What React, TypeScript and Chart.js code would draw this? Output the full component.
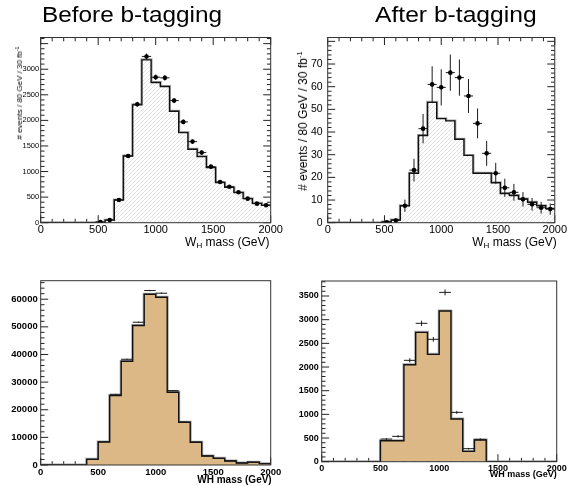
import React, { useEffect, useRef } from 'react';
import { Chart, registerables } from 'chart.js';

Chart.register(...registerables);

const W = 568;
const H = 486;

// ---------- Top panels: 80 GeV bins ----------
const topLowEdges = [0, 80, 160, 240, 320, 400, 480, 560, 640, 720, 800, 880, 960, 1040, 1120, 1200, 1280, 1360, 1440, 1520, 1600, 1680, 1760, 1840, 1920];
const topCenters = [520, 600, 680, 760, 840, 920, 1000, 1080, 1160, 1240, 1320, 1400, 1480, 1560, 1640, 1720, 1800, 1880, 1960];

const beforeHist = [0, 0, 0, 0, 0, 0, 5, 50, 443, 1305, 2303, 3183, 2740, 2661, 2179, 1761, 1435, 1292, 1076, 783, 691, 587, 470, 378, 339];
const beforePts = [13, 52, 443, 1305, 2316, 3250, 2844, 2831, 2387, 1970, 1585, 1370, 1096, 796, 704, 594, 470, 372, 340];
const beforeErr = [4, 7, 21, 36, 48, 57, 53, 53, 49, 44, 40, 37, 33, 28, 27, 24, 22, 19, 18];

const afterHist = [0, 0, 0, 0, 0, 0, 0.3, 1.2, 7.5, 21.8, 38.5, 53.1, 45.9, 44.9, 36.8, 29.7, 21.8, 21.8, 17.6, 12.9, 12.0, 10.5, 9.0, 7.5, 6.2];
const afterPts = [0.2, 1, 7.5, 23.2, 41.5, 61, 59.7, 66.2, 64, 55.9, 43.8, 30.6, 21.8, 15.4, 13.4, 10.3, 8.1, 6.6, 6];
const afterErr = [0.5, 1, 2.7, 5, 6.5, 8, 8, 8, 8, 7.5, 6.6, 5.5, 4.6, 4, 3.7, 3.2, 2.8, 2.6, 2.5];

// ---------- Bottom panels: 100 GeV bins ----------
const botLowEdges = [0, 100, 200, 300, 400, 500, 600, 700, 800, 900, 1000, 1100, 1200, 1300, 1400, 1500, 1600, 1700, 1800, 1900];

const fullHist = [0, 0, 0, 0, 2050, 8330, 25110, 37550, 50460, 61810, 60730, 26320, 15450, 8210, 3260, 2410, 1450, 720, 970, 480];
const fullCenters = [450, 550, 650, 750, 850, 950, 1050, 1150, 1250, 1350, 1450, 1550, 1650, 1750, 1850, 1950];
const fullMarks = [2100, 8400, 25590, 38270, 51670, 63140, 62170, 26920, 15500, 8300, 3300, 2450, 1480, 740, 990, 500];
const fullErr = [45, 90, 160, 200, 230, 250, 250, 165, 125, 90, 60, 50, 40, 27, 31, 22];

const btagHist = [0, 0, 0, 0, 0, 444, 444, 2049, 2732, 2268, 3183, 901, 218, 458, 0, 0, 0, 0, 0, 0];
const btagCenters = [550, 650, 750, 850, 950, 1050, 1150, 1250, 1350];
const btagMarks = [479, 535, 2141, 2923, 2585, 3577, 1042, 275, 472];
const btagErr = [20, 25, 45, 55, 50, 62, 32, 17, 22];

// ---------- Tick labels ----------
const xTicks = [0, 500, 1000, 1500, 2000];
const beforeYTicks = [0, 500, 1000, 1500, 2000, 2500, 3000];
const afterYTicks = [0, 10, 20, 30, 40, 50, 60, 70];
const fullYTicks = [0, 10000, 20000, 30000, 40000, 50000, 60000];
const btagYTicks = [0, 500, 1000, 1500, 2000, 2500, 3000, 3500];

const FONT = 'Liberation Sans';

type Area = { l: number; r: number; t: number; b: number };

interface PanelSpec {
  area: Area;
  yMax: number;
  yTicks: number[];
  yMinor: number;
  edges: number[];
  hist: number[];
  xEnd: number;
  fill: 'hatch' | 'tan';
  ptsX: number[];
  ptsY: number[];
  errY: number[];
  halfW: number;
  showDots: boolean;
  mirror: boolean;
  xFont: any;
  yFont: any;
  xPad: number;
  yPad: number;
}

function makeHatch(): CanvasPattern | string {
  const c = document.createElement('canvas');
  c.width = 4;
  c.height = 4;
  const g = c.getContext('2d');
  if (!g) return '#f4f4f4';
  g.fillStyle = '#ffffff';
  g.fillRect(0, 0, 4, 4);
  g.strokeStyle = '#d6d6d6';
  g.lineWidth = 0.7;
  g.beginPath();
  g.moveTo(0, 4);
  g.lineTo(4, 0);
  g.moveTo(-1, 1);
  g.lineTo(1, -1);
  g.moveTo(3, 5);
  g.lineTo(5, 3);
  g.stroke();
  return g.createPattern(c, 'repeat') || '#f4f4f4';
}

function buildConfig(p: PanelSpec): any {
  const histData = p.edges.map((e, i) => ({ x: e, y: p.hist[i] }));
  histData.push({ x: p.xEnd, y: p.hist[p.hist.length - 1] });
  const ptsData = p.ptsX.map((x, i) => ({ x, y: p.ptsY[i] }));

  const axesPlugin = {
    id: 'rootAxes',
    beforeDatasetsDraw(chart: any) {
      const { ctx, chartArea: a, scales } = chart;
      const xs = scales.x;
      const ys = scales.y;
      ctx.save();
      ctx.strokeStyle = '#222';
      ctx.lineWidth = 1;
      ctx.beginPath();
      const majL = 7.5;
      const minL = 3.8;
      const nx = Math.round((xs.max - xs.min) / 100);
      for (let i = 0; i <= nx; i++) {
        const v = xs.min + i * 100;
        const px = xs.getPixelForValue(v);
        const len = v % 500 === 0 ? majL : minL;
        ctx.moveTo(px, a.bottom);
        ctx.lineTo(px, a.bottom - len);
        if (p.mirror) {
          ctx.moveTo(px, a.top);
          ctx.lineTo(px, a.top + len);
        }
      }
      const majStep = p.yTicks[1] - p.yTicks[0];
      const ny = Math.floor(ys.max / p.yMinor + 1e-9);
      for (let i = 0; i <= ny; i++) {
        const v = i * p.yMinor;
        const py = ys.getPixelForValue(v);
        const isMaj = Math.abs(v / majStep - Math.round(v / majStep)) < 1e-6;
        const len = isMaj ? majL : minL;
        ctx.moveTo(a.left, py);
        ctx.lineTo(a.left + len, py);
        if (p.mirror) {
          ctx.moveTo(a.right, py);
          ctx.lineTo(a.right - len, py);
        }
      }
      ctx.stroke();
      ctx.restore();
    },
    beforeDatasetDraw(chart: any, args: any) {
      if (args.index !== 0) return;
      const { ctx, scales } = chart;
      const xs = scales.x;
      const ys = scales.y;
      ctx.save();
      ctx.strokeStyle = '#1a1a1a';
      ctx.lineWidth = 1;
      ctx.beginPath();
      p.ptsX.forEach((x, i) => {
        const y = p.ptsY[i];
        const e = p.errY[i];
        const py = ys.getPixelForValue(y);
        ctx.moveTo(xs.getPixelForValue(x - p.halfW), py);
        ctx.lineTo(xs.getPixelForValue(x + p.halfW), py);
        const px = xs.getPixelForValue(x);
        ctx.moveTo(px, ys.getPixelForValue(Math.max(0, y - e)));
        ctx.lineTo(px, ys.getPixelForValue(y + e));
      });
      ctx.stroke();
      ctx.restore();
    },
    afterDatasetsDraw(chart: any) {
      const { ctx, chartArea: a } = chart;
      ctx.save();
      ctx.strokeStyle = '#333';
      ctx.lineWidth = 1;
      ctx.strokeRect(a.left, a.top, a.right - a.left, a.bottom - a.top);
      ctx.restore();
    },
  };

  const fillColor = p.fill === 'hatch' ? makeHatch() : '#dcb886';

  return {
    type: 'scatter',
    data: {
      datasets: [
        {
          data: ptsData,
          pointRadius: p.showDots ? 2.3 : 0,
          pointHoverRadius: 0,
          pointBackgroundColor: '#000',
          pointBorderWidth: 0,
          showLine: false,
        },
        {
          data: histData,
          showLine: true,
          stepped: true,
          fill: 'origin',
          backgroundColor: fillColor,
          borderColor: '#111',
          borderWidth: 1.4,
          pointRadius: 0,
        },
        {
          data: histData,
          showLine: true,
          stepped: true,
          fill: false,
          borderColor: 'rgba(130,130,130,0.7)',
          borderWidth: 3,
          pointRadius: 0,
        },
      ],
    },
    options: {
      animation: false,
      responsive: false,
      devicePixelRatio: 1,
      events: [],
      layout: {
        padding: { left: 0, right: W - p.area.r, top: p.area.t, bottom: 0 },
      },
      plugins: { legend: { display: false }, tooltip: { enabled: false }, title: { display: false } },
      scales: {
        x: {
          type: 'linear',
          min: 0,
          max: 2000,
          grid: { display: false, drawTicks: false },
          border: { display: false },
          ticks: {
            autoSkip: false,
            maxRotation: 0,
            padding: p.xPad,
            color: '#000',
            font: p.xFont,
            callback: (v: number) => String(v),
          },
          afterBuildTicks: (s: any) => {
            s.ticks = xTicks.map((v) => ({ value: v }));
          },
          afterFit: (s: any) => {
            s.height = H - p.area.b;
          },
        },
        y: {
          type: 'linear',
          min: 0,
          max: p.yMax,
          grid: { display: false, drawTicks: false },
          border: { display: false },
          ticks: {
            autoSkip: false,
            padding: p.yPad,
            color: '#000',
            font: p.yFont,
            callback: (v: number) => String(v),
          },
          afterBuildTicks: (s: any) => {
            s.ticks = p.yTicks.map((v) => ({ value: v }));
          },
          afterFit: (s: any) => {
            s.width = p.area.l;
          },
        },
      },
    },
    plugins: [axesPlugin],
  };
}

const panels: PanelSpec[] = [
  {
    area: { l: 40.7, r: 270.7, t: 37.5, b: 222.7 },
    yMax: 3620,
    yTicks: beforeYTicks,
    yMinor: 100,
    edges: topLowEdges,
    hist: beforeHist,
    xEnd: 2000,
    fill: 'hatch',
    ptsX: topCenters,
    ptsY: beforePts,
    errY: beforeErr,
    halfW: 40,
    showDots: true,
    mirror: true,
    xFont: { family: FONT, size: 11 },
    yFont: { family: FONT, size: 7.5 },
    xPad: 1,
    yPad: 1.5,
  },
  {
    area: { l: 327.7, r: 556.7, t: 37.5, b: 222.7 },
    yMax: 81.7,
    yTicks: afterYTicks,
    yMinor: 2,
    edges: topLowEdges,
    hist: afterHist,
    xEnd: 2000,
    fill: 'hatch',
    ptsX: topCenters,
    ptsY: afterPts,
    errY: afterErr,
    halfW: 40,
    showDots: true,
    mirror: true,
    xFont: { family: FONT, size: 11 },
    yFont: { family: FONT, size: 10.5 },
    xPad: 1,
    yPad: 5,
  },
  {
    area: { l: 40.7, r: 270.7, t: 280.7, b: 465 },
    yMax: 66700,
    yTicks: fullYTicks,
    yMinor: 2000,
    edges: botLowEdges,
    hist: fullHist,
    xEnd: 2000,
    fill: 'tan',
    ptsX: fullCenters,
    ptsY: fullMarks,
    errY: fullErr,
    halfW: 50,
    showDots: false,
    mirror: false,
    xFont: { family: FONT, size: 9.5, weight: 'bold' },
    yFont: { family: FONT, size: 9.5, weight: 'bold' },
    xPad: 1.5,
    yPad: 3,
  },
  {
    area: { l: 321.7, r: 556.7, t: 281, b: 461.7 },
    yMax: 3817,
    yTicks: btagYTicks,
    yMinor: 100,
    edges: botLowEdges,
    hist: btagHist,
    xEnd: 2000,
    fill: 'tan',
    ptsX: btagCenters,
    ptsY: btagMarks,
    errY: btagErr,
    halfW: 50,
    showDots: false,
    mirror: false,
    xFont: { family: FONT, size: 9, weight: 'bold' },
    yFont: { family: FONT, size: 9, weight: 'bold' },
    xPad: 1,
    yPad: 3,
  },
];

function PanelCanvas({ spec }: { spec: PanelSpec }) {
  const ref = useRef<HTMLCanvasElement | null>(null);
  useEffect(() => {
    if (!ref.current) return;
    const chart = new Chart(ref.current, buildConfig(spec));
    return () => chart.destroy();
  }, [spec]);
  return (
    <canvas
      ref={ref}
      width={W}
      height={H}
      style={{ position: 'absolute', left: 0, top: 0, width: W, height: H }}
    />
  );
}

const txt: React.CSSProperties = {
  position: 'absolute',
  fontFamily: `${FONT}, Arial, sans-serif`,
  lineHeight: 1,
  whiteSpace: 'nowrap',
  color: '#000',
};

function YTitle({ cx, cy, size }: { cx: number; cy: number; size: number }) {
  return (
    <div
      style={{
        ...txt,
        left: cx,
        top: cy,
        fontSize: size,
        transform: 'translate(-50%, -50%) rotate(-90deg)',
      }}
    >
      # events / 80 GeV / 30 fb
      <sup style={{ fontSize: size * 0.65, lineHeight: 0, verticalAlign: size * 0.4 }}>-1</sup>
    </div>
  );
}

export default function App() {
  return (
    <div style={{ position: 'absolute', left: 0, top: 0, width: W, height: H, background: '#fff', overflow: 'hidden' }}>
      {panels.map((p, i) => (
        <PanelCanvas key={i} spec={p} />
      ))}
      <div style={{ ...txt, left: 42, top: 3.8, fontSize: 22, transform: 'scaleX(1.107)', transformOrigin: 'left top' }}>
        Before b-tagging
      </div>
      <div style={{ ...txt, left: 375, top: 3.8, fontSize: 22, transform: 'scaleX(1.12)', transformOrigin: 'left top' }}>
        After b-tagging
      </div>
      <YTitle cx={20} cy={93} size={8} />
      <YTitle cx={302.5} cy={121} size={12} />
      <div style={{ ...txt, right: W - 269.5, top: 235.9, fontSize: 12 }}>
        W<sub style={{ fontSize: 8, lineHeight: 0, verticalAlign: -2 }}>H</sub> mass (GeV)
      </div>
      <div style={{ ...txt, right: W - 556.7, top: 235.5, fontSize: 12 }}>
        W<sub style={{ fontSize: 8, lineHeight: 0, verticalAlign: -2 }}>H</sub> mass (GeV)
      </div>
      <div style={{ ...txt, right: W - 271.7, top: 474.8, fontSize: 10, fontWeight: 'bold' }}>WH mass (GeV)</div>
      <div style={{ ...txt, right: W - 556.7, top: 470, fontSize: 9, fontWeight: 'bold' }}>WH mass (GeV)</div>
    </div>
  );
}
